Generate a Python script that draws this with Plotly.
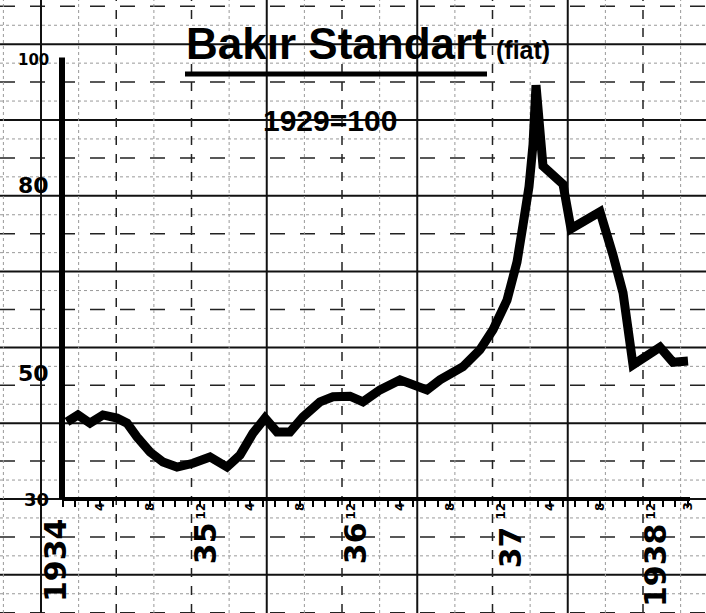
import plotly.graph_objects as go

# ---- data (months elapsed since start of 1934, index 1929=100) ----
months = [1.36, 2.24, 3.2, 4.24, 5.36, 6.16, 6.96, 8.0, 9.04, 10.16, 11.44,
          12.8, 14.16, 15.2, 16.24, 17.2, 18.16, 19.2, 20.24, 21.6, 22.64,
          24.0, 25.04, 26.4, 28.0, 30.16, 31.2, 32.0, 33.04, 34.4, 35.44,
          36.56, 37.36, 37.84, 38.32, 38.64, 38.88, 39.44, 41.04, 41.68,
          44.0, 45.04, 45.84, 46.64, 48.8, 49.84, 51.04]
values = [42.3, 43.4, 42.1, 43.4, 42.9, 42.1, 39.9, 37.5, 35.9, 35.1, 35.7,
          36.7, 35.1, 37.0, 40.5, 42.9, 40.7, 40.7, 43.1, 45.5, 46.3,
          46.4, 45.5, 47.4, 49.0, 47.4, 49.0, 50.1, 51.1, 53.8, 57.0,
          61.7, 67.8, 73.7, 79.8, 86.5, 96.0, 83.1, 80.2, 73.1,
          75.8, 68.9, 62.9, 51.4, 54.2, 51.8, 52.0]

y_tick_vals = [100, 80, 50, 30]
y_tick_text = ["100", "80", "50", "30"]
y_tick_sizes = [15, 22, 22, 18]

year_pos = [0.5, 12.5, 24.5, 36.8, 48.5]
year_text = ["1934", "35", "36", "37", "1938"]
year_yval = [20.3, 23.0, 23.0, 22.3, 19.5]

month_label_pos = [4, 8, 12, 16, 20, 24, 28, 32, 36, 40, 44, 48, 51]
month_label_text = ["4", "8", "12", "4", "8", "12", "4", "8", "12", "4", "8", "12", "3"]

month_ticks = list(range(1, 52))

W, H = 706, 613
XMIN, XMAX = -4.0, 52.48
YMIN, YMAX = 11.818, 109.585


def px(x):
    return x / W


def py(y):
    return 1 - y / H


shapes = []
# graph paper: horizontal lines
H0, HSTEP = 499.0, 37.9
for k in range(-14, 5):
    y = H0 + HSTEP * k
    if 0 <= y <= H:
        if k % 2 == 0:
            ln = dict(color="#111", width=2)
        else:
            ln = dict(color="#222", width=1.5, dash="longdash")
        shapes.append(dict(type="line", xref="paper", yref="paper", x0=0, x1=1,
                           y0=py(y), y1=py(y), line=ln, layer="below"))
    ym = y + HSTEP / 2
    if 0 <= ym <= H:
        shapes.append(dict(type="line", xref="paper", yref="paper", x0=0, x1=1,
                           y0=py(ym), y1=py(ym),
                           line=dict(color="#999", width=1, dash="dot"), layer="below"))

# graph paper: vertical lines
V0, VSTEP = 41.0, 75.25
solid_cols = {0, 3, 5, 7}
for j in range(-1, 10):
    x = V0 + VSTEP * j
    if 0 <= x <= W:
        if j in solid_cols:
            ln = dict(color="#111", width=2)
        else:
            ln = dict(color="#222", width=1.5, dash="dash")
        shapes.append(dict(type="line", xref="paper", yref="paper", x0=px(x), x1=px(x),
                           y0=0, y1=1, line=ln, layer="below"))
    xm = x + VSTEP / 2
    if 0 <= xm <= W:
        shapes.append(dict(type="line", xref="paper", yref="paper", x0=px(xm), x1=px(xm),
                           y0=0, y1=1, line=dict(color="#999", width=1, dash="dot"),
                           layer="below"))

# axes (thick hand-drawn lines)
shapes.append(dict(type="line", xref="x", yref="y", x0=0.96, x1=51.2, y0=30, y1=30,
                   line=dict(color="black", width=4)))
shapes.append(dict(type="line", xref="x", yref="y", x0=0.96, x1=0.96, y0=30, y1=100.4,
                   line=dict(color="black", width=6)))
# title underline
shapes.append(dict(type="line", xref="paper", yref="paper", x0=px(185), x1=px(487),
                   y0=py(74), y1=py(74), line=dict(color="black", width=5)))

fig = go.Figure()
fig.add_trace(go.Scatter(x=months, y=values, mode="lines",
                         line=dict(color="black", width=9), hoverinfo="skip",
                         showlegend=False))

annotations = []
annotations.append(dict(text="<b>Bakır Standart</b>", xref="paper", yref="paper",
                        x=px(336), y=py(44), xanchor="center", yanchor="middle",
                        showarrow=False,
                        font=dict(family="Liberation Sans", size=44, color="black")))
annotations.append(dict(text="<b>(fiat)</b>", xref="paper", yref="paper",
                        x=px(523), y=py(50), xanchor="center", yanchor="middle",
                        showarrow=False,
                        font=dict(family="Liberation Sans", size=25, color="black")))
annotations.append(dict(text="<b>1929=100</b>", xref="paper", yref="paper",
                        x=px(330), y=py(121), xanchor="center", yanchor="middle",
                        showarrow=False,
                        font=dict(family="Liberation Sans", size=30, color="black")))

for v, t, s in zip(y_tick_vals, y_tick_text, y_tick_sizes):
    annotations.append(dict(text="<b>" + t + "</b>", xref="paper", yref="y",
                            x=px(51), y=v, xanchor="right", yanchor="middle",
                            showarrow=False,
                            font=dict(family="DejaVu Sans", size=s, color="black")))

for m, t, yv in zip(year_pos, year_text, year_yval):
    annotations.append(dict(text="<b>" + t + "</b>", xref="x", yref="y", x=m, y=yv,
                            textangle=-90, showarrow=False,
                            font=dict(family="DejaVu Sans", size=30, color="black")))

for m, t in zip(month_label_pos, month_label_text):
    annotations.append(dict(text="<b>" + t + "</b>", xref="x", yref="y", x=m, y=30,
                            yanchor="top", yshift=-2, textangle=-90, showarrow=False,
                            font=dict(family="DejaVu Sans", size=12, color="black")))

fig.update_layout(
    width=W, height=H,
    margin=dict(l=0, r=0, t=0, b=0),
    paper_bgcolor="white", plot_bgcolor="white",
    showlegend=False,
    shapes=shapes,
    annotations=annotations,
    xaxis=dict(range=[XMIN, XMAX], domain=[0, 1], anchor="free",
               position=(30 - YMIN) / (YMAX - YMIN),
               showgrid=False, zeroline=False, showline=False,
               tickmode="array", tickvals=month_ticks, ticks="outside",
               ticklen=7, tickwidth=2, tickcolor="black", showticklabels=False,
               fixedrange=True),
    yaxis=dict(range=[YMIN, YMAX], domain=[0, 1], showgrid=False, zeroline=False,
               showline=False, showticklabels=False, ticks="", fixedrange=True),
)

fig.write_html("out.html", config={"displayModeBar": False},
               post_script="document.body.style.margin='0';")
